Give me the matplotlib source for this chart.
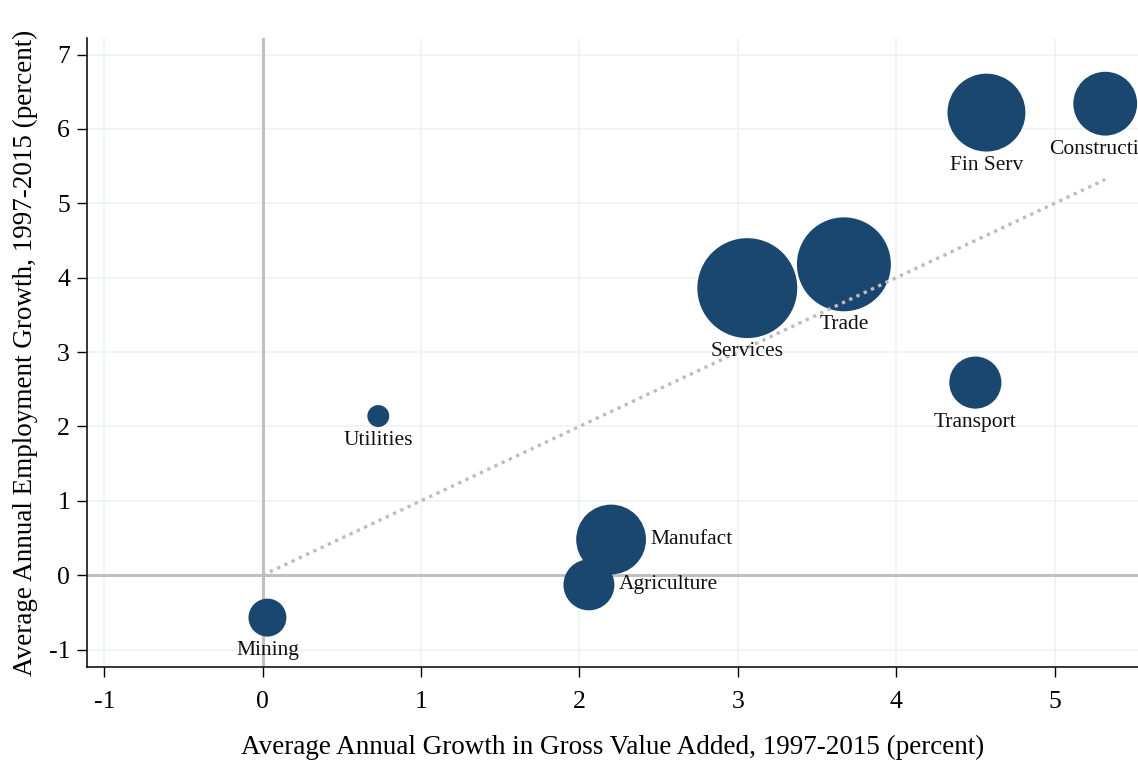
import matplotlib
matplotlib.use("Agg")
import matplotlib.pyplot as plt
import numpy as np

# sectors, average annual growth 1997-2015 (percent)
sectors = ["Mining", "Utilities", "Agriculture", "Manufact", "Services",
           "Trade", "Transport", "Fin Serv", "Construction"]
gva_growth = [0.03, 0.73, 2.06, 2.20, 3.06, 3.67, 4.50, 4.57, 5.32]
emp_growth = [-0.57, 2.14, -0.13, 0.48, 3.86, 4.18, 2.59, 6.22, 6.34]
weight = [36, 12, 65, 122, 250, 221, 68, 152, 102]  # bubble size (area)
label_side = ["below", "below", "right", "right", "below",
              "below", "below", "below", "below"]

xticks = [-1, 0, 1, 2, 3, 4, 5]
yticks = [-1, 0, 1, 2, 3, 4, 5, 6, 7]

navy = "#1a476f"
grid_c = "#eaf2f3"
zero_c = "#c0c0c0"

plt.rcParams['font.family'] = ['Liberation Serif', 'DejaVu Serif']

fig = plt.figure(figsize=(11.38, 7.6), dpi=100)
ax = fig.add_axes([0.0765, 0.1224, 0.9235, 0.8276])

ax.set_xlim(-1.109, 5.527)
ax.set_ylim(-1.234, 7.223)

for x in xticks:
    ax.axvline(x, color=grid_c, lw=1.1, zorder=0)
for y in yticks:
    ax.axhline(y, color=grid_c, lw=1.1, zorder=0)
ax.axvline(0, color=zero_c, lw=2.2, zorder=1)
ax.axhline(0, color=zero_c, lw=2.2, zorder=1)

sizes = np.array(weight) * 20.7
ax.scatter(gva_growth, emp_growth, s=sizes, color=navy, edgecolors='none',
           zorder=3)

# 45 degree line up to the largest growth value
xmax = max(gva_growth)
ax.plot([0, xmax], [0, xmax], color='#bdbdbd', lw=2.4, ls=(0, (1, 1.4)),
        zorder=4)

for name, x, y, s, side in zip(sectors, gva_growth, emp_growth, sizes, label_side):
    r = np.sqrt(s) / 2
    if side == "below":
        ax.annotate(name, (x, y), xytext=(0, -r - 3), textcoords='offset points',
                    ha='center', va='top', fontsize=15.5, color='#111111', zorder=5)
    else:
        ax.annotate(name, (x, y), xytext=(r + 3, 0), textcoords='offset points',
                    ha='left', va='center', fontsize=15.5, color='#111111', zorder=5)

ax.set_xticks(xticks)
ax.set_yticks(yticks)
ax.set_xticklabels([str(v) for v in xticks])
ax.set_yticklabels([str(v) for v in yticks])
ax.tick_params(axis='both', direction='out', length=7.2, width=1, labelsize=18.5,
               color='black')
ax.tick_params(axis='x', pad=10)
ax.tick_params(axis='y', pad=5)

for side in ['top', 'right']:
    ax.spines[side].set_visible(False)
for side in ['left', 'bottom']:
    ax.spines[side].set_linewidth(1.1)

ax.set_xlabel("Average Annual Growth in Gross Value Added, 1997-2015 (percent)",
              fontsize=19.5, labelpad=16)
ax.set_ylabel("Average Annual Employment Growth, 1997-2015 (percent)",
              fontsize=19.5, labelpad=8)

fig.savefig("out.png", dpi=100)
